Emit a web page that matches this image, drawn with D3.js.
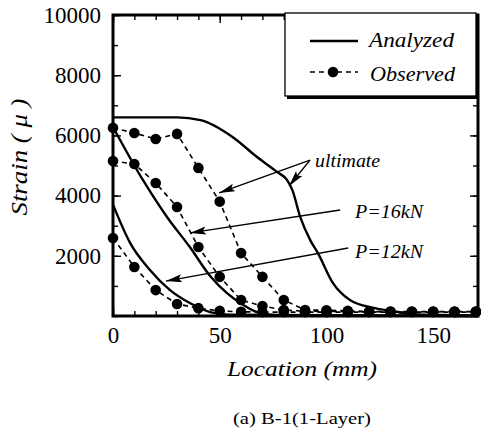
<!DOCTYPE html>
<html>
<head>
<meta charset="utf-8">
<script src="https://cdn.jsdelivr.net/npm/d3@7"></script>
<style>
  html, body { margin: 0; padding: 0; background: #fff; }
  svg { display: block; }
  text { font-family: "Liberation Serif", "Times New Roman", serif; fill: #000; }
</style>
</head>
<body>
<script>
// Observed strain (μ) at gauge locations (mm)
const obsLocation = [0, 10, 20, 30, 40, 50, 60, 70, 80, 90, 100, 110, 120, 130, 140, 150, 160, 170];
const obsUltimate = [6250, 6080, 5880, 6050, 4920, 3800, 2090, 1300, 530, 200, 190, 170, 150, 150, 150, 150, 150, 150];
const obs16kN     = [5150, 5050, 4420, 3620, 2290, 1300, 530, 330, 200, 160, 150, 150, 140, 140, 140, 140, 140, 140];
const obs12kN     = [2590, 1630, 860, 400, 260, 170, 140, 130, 130, 130, 130, 130, 130, 130, 130, 130, 130, 130];

// Analyzed strain distributions
const anaUltLocation = [0, 30, 41, 56, 67.5, 77, 81.5, 84, 87.7, 92.4, 96, 103, 111, 122, 131, 140, 171];
const anaUltStrain   = [6600, 6600, 6510, 5950, 5280, 4780, 4520, 4190, 3290, 2520, 2090, 1100, 530, 270, 160, 60, 20];
const ana16Location  = [0, 14, 25.3, 36, 45.5, 53.4, 61, 67.5, 76, 171];
const ana16Strain    = [6280, 4520, 3290, 2290, 1330, 760, 370, 130, 30, 0];
const ana12Location  = [0, 8, 17.3, 26.7, 36, 45.5, 55, 171];
const ana12Strain    = [3700, 2430, 1530, 860, 430, 130, 40, 0];

// Axis ticks
const xMajorTicks = [0, 50, 100, 150];
const xMinorTicks = d3.range(0, 171, 10);
const yMajorTicks = [2000, 4000, 6000, 8000, 10000];
const yMinorTicks = d3.range(0, 10001, 1000);

// Annotation labels: text anchor, label line start, arrow tips (data units)
const annotations = [
  { label: "ultimate", text: [94.7, 4950], from: [92.3, 5180], tips: [[49.7, 4090], [82.5, 4320]], width: 65 },
  { label: "P=16kN",   text: [113.4, 3260], from: [106.4, 3520], tips: [[36.1, 2760]], width: 68 },
  { label: "P=12kN",   text: [113.4, 1930], from: [110.2, 2260], tips: [[24.8, 1160]], width: 68 }
];

const W = 481, H = 436;
const svg = d3.select("body").append("svg").attr("width", W).attr("height", H);

const x = d3.scaleLinear().domain([0, 171]).range([113, 478]);
const y = d3.scaleLinear().domain([0, 10000]).range([316, 15]);

// Arrowhead
svg.append("defs").append("marker")
  .attr("id", "arrow")
  .attr("markerUnits", "userSpaceOnUse")
  .attr("markerWidth", 18).attr("markerHeight", 10)
  .attr("refX", 16).attr("refY", 4)
  .attr("orient", "auto-start-reverse")
  .append("path").attr("d", "M0,0 L16,4 L0,8 L3,4 Z").attr("fill", "#000");

// Ticks (inward) on all four sides
function styleAxis(g) {
  g.select(".domain").remove();
  g.selectAll(".tick line").attr("stroke", "#000").attr("stroke-width", 1.4);
  g.selectAll("text").style("font-size", "23px").style("font-family", '"Liberation Serif", "Times New Roman", serif');
}
svg.append("g").attr("transform", `translate(0,${y(0)})`)
  .call(d3.axisBottom(x).tickValues(xMinorTicks).tickSize(-5).tickFormat("")).call(styleAxis);
svg.append("g").attr("transform", `translate(0,${y(0)})`)
  .call(d3.axisBottom(x).tickValues(xMajorTicks).tickSize(-8).tickPadding(11).tickFormat(d3.format("d"))).call(styleAxis);
svg.append("g").attr("transform", `translate(0,${y(10000)})`)
  .call(d3.axisTop(x).tickValues(xMinorTicks).tickSize(-5).tickFormat("")).call(styleAxis);
svg.append("g").attr("transform", `translate(0,${y(10000)})`)
  .call(d3.axisTop(x).tickValues(xMajorTicks).tickSize(-8).tickFormat("")).call(styleAxis);
svg.append("g").attr("transform", `translate(${x(0)},0)`)
  .call(d3.axisLeft(y).tickValues(yMinorTicks).tickSize(-5).tickFormat("")).call(styleAxis);
svg.append("g").attr("transform", `translate(${x(0)},0)`)
  .call(d3.axisLeft(y).tickValues(yMajorTicks).tickSize(-8).tickPadding(12).tickFormat(d3.format("d"))).call(styleAxis);
svg.append("g").attr("transform", `translate(${x(171)},0)`)
  .call(d3.axisRight(y).tickValues(yMinorTicks).tickSize(-5).tickFormat("")).call(styleAxis);
svg.append("g").attr("transform", `translate(${x(171)},0)`)
  .call(d3.axisRight(y).tickValues(yMajorTicks).tickSize(-8).tickFormat("")).call(styleAxis);

// Frame
svg.append("rect")
  .attr("x", x(0)).attr("y", y(10000))
  .attr("width", x(171) - x(0)).attr("height", y(0) - y(10000))
  .attr("fill", "none").attr("stroke", "#000").attr("stroke-width", 3);

// Analyzed curves
const anaLine = d3.line().x(d => x(d[0])).y(d => y(d[1])).curve(d3.curveMonotoneX);
[[anaUltLocation, anaUltStrain], [ana16Location, ana16Strain], [ana12Location, ana12Strain]].forEach(([xs, ys]) => {
  svg.append("path")
    .attr("d", anaLine(d3.zip(xs, ys)))
    .attr("fill", "none").attr("stroke", "#000").attr("stroke-width", 2.4);
});

// Observed series
const obsLine = d3.line().x(d => x(d[0])).y(d => y(d[1]));
[obsUltimate, obs16kN, obs12kN].forEach(vals => {
  const pts = d3.zip(obsLocation, vals);
  svg.append("path")
    .attr("d", obsLine(pts))
    .attr("fill", "none").attr("stroke", "#000").attr("stroke-width", 1.6)
    .attr("stroke-dasharray", "5,4");
  svg.append("g").selectAll("circle").data(pts).join("circle")
    .attr("cx", d => x(d[0])).attr("cy", d => y(d[1])).attr("r", 5.3).attr("fill", "#000");
});

// Annotations
annotations.forEach(a => {
  a.tips.forEach(t => {
    svg.append("line")
      .attr("x1", x(a.from[0])).attr("y1", y(a.from[1]))
      .attr("x2", x(t[0])).attr("y2", y(t[1]))
      .attr("stroke", "#000").attr("stroke-width", 1.4)
      .attr("marker-end", "url(#arrow)");
  });
  svg.append("text")
    .attr("x", x(a.text[0])).attr("y", y(a.text[1]))
    .attr("textLength", a.width).attr("lengthAdjust", "spacingAndGlyphs")
    .style("font-size", "19px").style("font-style", "italic")
    .text(a.label);
});

// Legend
const lg = svg.append("g");
lg.append("rect").attr("x", 287).attr("y", 15).attr("width", 192).attr("height", 84).attr("fill", "#000");
lg.append("rect").attr("x", 285).attr("y", 13).attr("width", 191).attr("height", 83)
  .attr("fill", "#fff").attr("stroke", "#000").attr("stroke-width", 1.3);
lg.append("line").attr("x1", 310).attr("x2", 358).attr("y1", 41).attr("y2", 41)
  .attr("stroke", "#000").attr("stroke-width", 2.4);
lg.append("line").attr("x1", 310).attr("x2", 358).attr("y1", 72).attr("y2", 72)
  .attr("stroke", "#000").attr("stroke-width", 1.6).attr("stroke-dasharray", "5,4");
lg.append("circle").attr("cx", 333).attr("cy", 72).attr("r", 5.3).attr("fill", "#000");
lg.append("text").attr("x", 369).attr("y", 47).attr("textLength", 85).attr("lengthAdjust", "spacingAndGlyphs")
  .style("font-size", "21px").style("font-style", "italic").text("Analyzed");
lg.append("text").attr("x", 370).attr("y", 81).attr("textLength", 85).attr("lengthAdjust", "spacingAndGlyphs")
  .style("font-size", "21px").style("font-style", "italic").text("Observed");

// Axis titles
svg.append("text")
  .attr("x", 302).attr("y", 376).attr("text-anchor", "middle")
  .attr("textLength", 150).attr("lengthAdjust", "spacingAndGlyphs")
  .style("font-size", "22px").style("font-style", "italic")
  .text("Location (mm)");
svg.append("text")
  .attr("transform", "translate(27,157) rotate(-90)")
  .attr("text-anchor", "middle")
  .attr("textLength", 117).attr("lengthAdjust", "spacingAndGlyphs")
  .style("font-size", "23px").style("font-style", "italic")
  .text("Strain ( μ )");

// Caption
svg.append("text")
  .attr("x", 302).attr("y", 424).attr("text-anchor", "middle")
  .attr("textLength", 138).attr("lengthAdjust", "spacingAndGlyphs")
  .style("font-size", "17px")
  .text("(a) B-1(1-Layer)");
</script>
</body>
</html>
